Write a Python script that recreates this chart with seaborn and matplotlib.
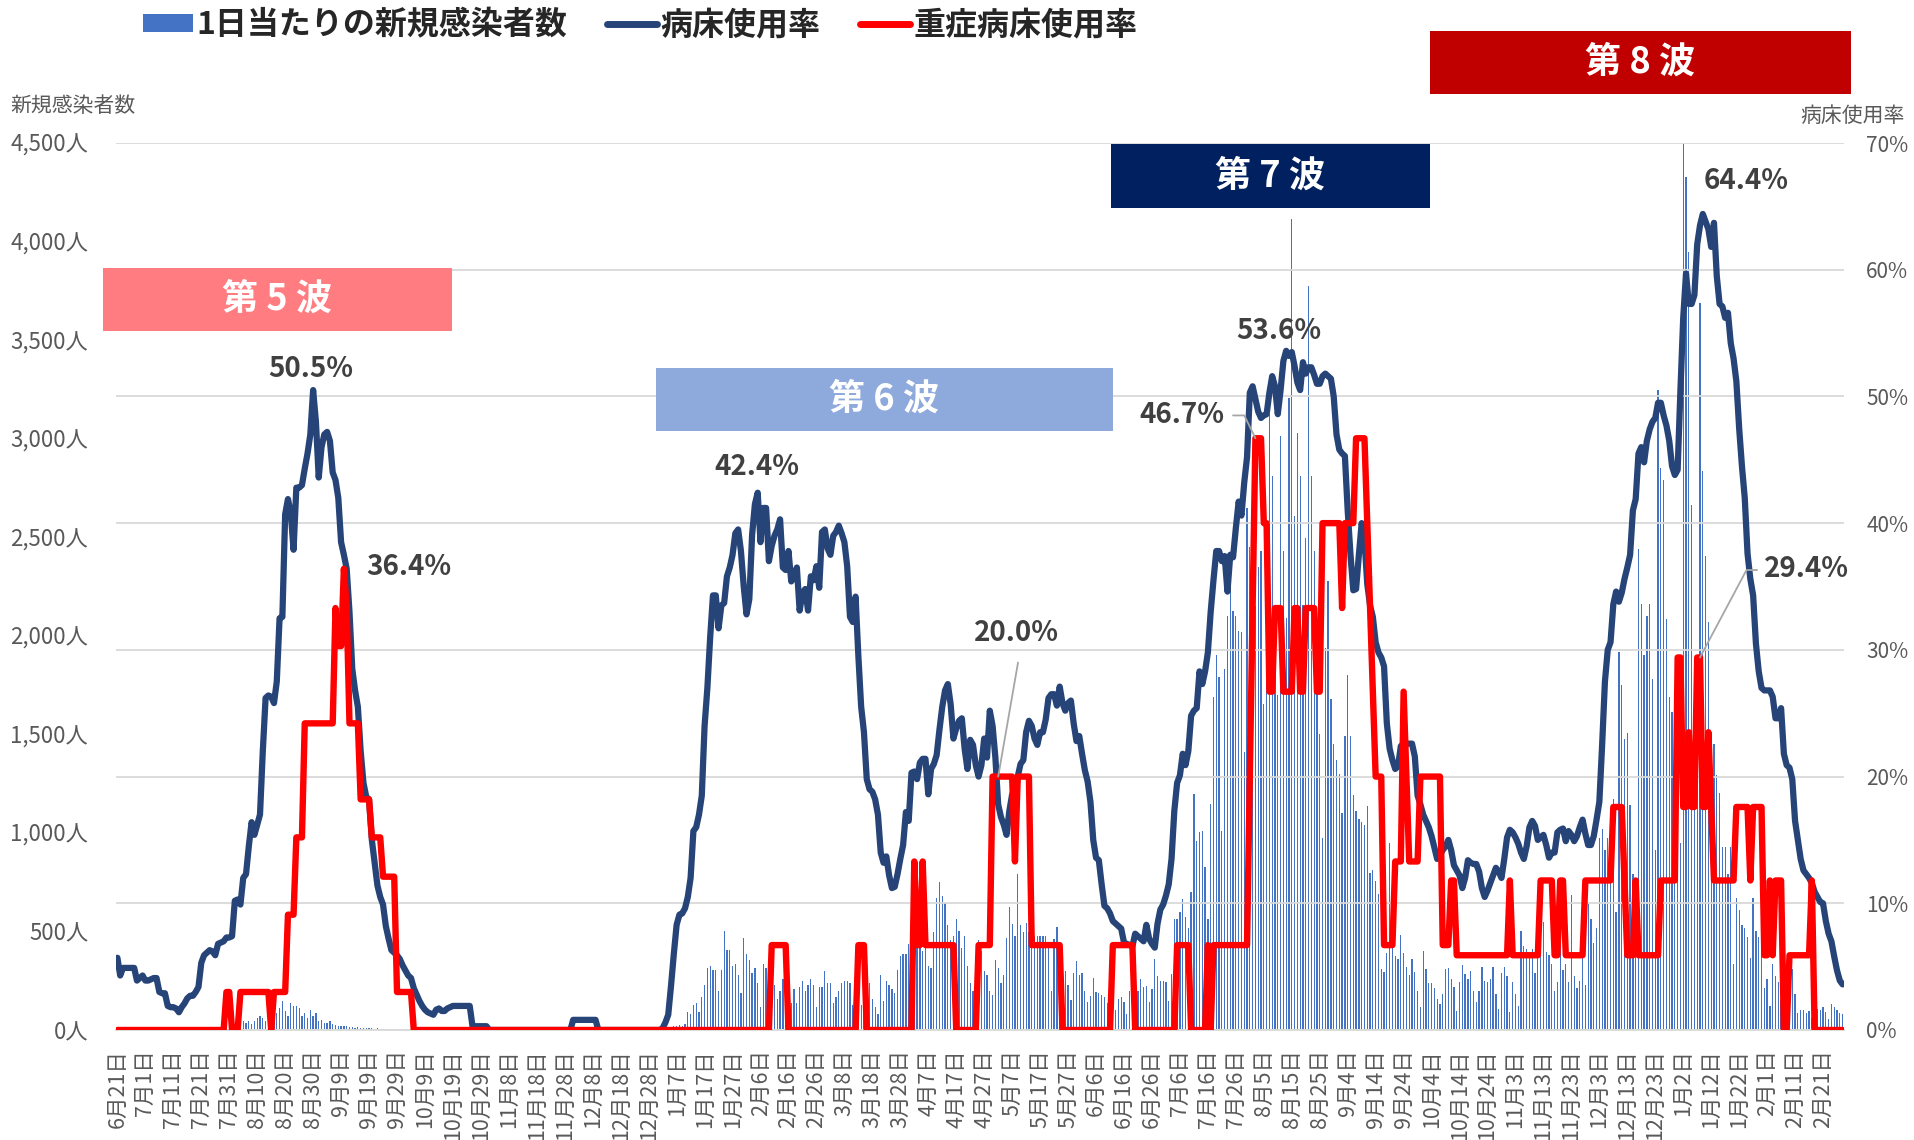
import numpy as np
import pandas as pd
import matplotlib
matplotlib.use("Agg")
import matplotlib.pyplot as plt
from matplotlib.patches import Rectangle
from matplotlib.lines import Line2D
import seaborn as sns

sns.set_theme(style="white")
plt.rcParams['font.family'] = ['Noto Sans CJK JP', 'DejaVu Sans']

# x軸ラベル (10日ごと, 2021/6/21 - 2023/2/21)
date_labels = ['6月21日', '7月1日', '7月11日', '7月21日', '7月31日', '8月10日', '8月20日', '8月30日',
               '9月9日', '9月19日', '9月29日', '10月9日', '10月19日', '10月29日', '11月8日', '11月18日',
               '11月28日', '12月8日', '12月18日', '12月28日', '1月7日', '1月17日', '1月27日', '2月6日',
               '2月16日', '2月26日', '3月8日', '3月18日', '3月28日', '4月7日', '4月17日', '4月27日',
               '5月7日', '5月17日', '5月27日', '6月6日', '6月16日', '6月26日', '7月6日', '7月16日',
               '7月26日', '8月5日', '8月15日', '8月25日', '9月4日', '9月14日', '9月24日', '10月4日',
               '10月14日', '10月24日', '11月3日', '11月13日', '11月23日', '12月3日', '12月13日', '12月23日',
               '1月2日', '1月12日', '1月22日', '2月1日', '2月11日', '2月21日']

# 1日当たりの新規感染者数 (人)
cases = [
    8, 6, 5, 9, 7, 4, 3, 6, 5, 4,
    5, 7, 6, 4, 3, 5, 6, 8, 7, 5,
    4, 6, 9, 8, 10, 7, 5, 8, 11, 12,
    10, 14, 12, 9, 15, 13, 11, 16, 18, 14,
    12, 20, 25, 22, 30, 46, 33, 46, 28, 46,
    59, 72, 59, 46, 40, 38, 97, 84, 110, 148,
    97, 72, 135, 123, 123, 110, 72, 84, 59, 102,
    72, 84, 46, 51, 33, 35, 46, 30, 26, 22,
    20, 18, 20, 15, 14, 12, 15, 10, 11, 9,
    8, 9, 7, 8, 6, 5, 6, 4, 5, 4,
    3, 4, 2, 3, 2, 1, 2, 1, 1, 2,
    1, 0, 1, 1, 0, 2, 1, 0, 1, 1,
    0, 1, 0, 0, 1, 0, 2, 1, 0, 0,
    1, 0, 0, 1, 0, 0, 1, 0, 0, 0,
    1, 0, 0, 0, 1, 0, 0, 0, 0, 1,
    0, 0, 1, 0, 0, 0, 0, 1, 0, 0,
    0, 1, 0, 0, 2, 1, 0, 1, 0, 0,
    1, 0, 0, 0, 1, 0, 0, 0, 1, 0,
    0, 1, 2, 1, 0, 1, 3, 2, 4, 6,
    5, 8, 12, 10, 7, 5, 10, 8, 15, 20,
    18, 25, 22, 30, 89, 79, 129, 138, 89, 168,
    227, 316, 326, 306, 306, 198, 306, 504, 405, 405,
    326, 336, 277, 188, 465, 386, 356, 287, 316, 237,
    119, 336, 316, 280, 250, 227, 158, 198, 257, 277,
    158, 138, 208, 138, 218, 247, 198, 227, 257, 227,
    119, 218, 218, 297, 237, 237, 138, 168, 198, 237,
    247, 247, 237, 129, 198, 99, 129, 119, 198, 237,
    158, 119, 79, 277, 148, 247, 227, 208, 188, 306,
    376, 386, 386, 435, 475, 376, 420, 460, 400, 415,
    326, 316, 495, 672, 752, 682, 643, 534, 455, 475,
    564, 504, 415, 475, 326, 237, 198, 376, 455, 400,
    297, 277, 198, 178, 356, 316, 237, 277, 465, 623,
    540, 475, 791, 534, 495, 544, 495, 415, 475, 475,
    479, 479, 479, 445, 200, 462, 521, 420, 346, 300,
    230, 150, 290, 352, 280, 290, 200, 140, 170, 265,
    195, 190, 180, 165, 135, 90, 145, 100, 155, 166,
    140, 80, 200, 170, 200, 200, 259, 217, 225, 140,
    208, 360, 276, 250, 250, 242, 149, 284, 563, 563,
    600, 665, 572, 520, 699, 1198, 961, 1003, 1012, 826,
    563, 1147, 1689, 1900, 1790, 1012, 1832, 2100, 2302, 2127,
    2098, 2025, 2021, 1409, 2650, 2450, 1500, 2149, 2347, 2429,
    1654, 1871, 3123, 2810, 2143, 1700, 3014, 2429, 2089, 3204,
    4115, 2606, 3027, 2810, 2157, 2497, 3775, 2810, 2429, 1763,
    1500, 974, 1939, 2279, 1681, 1450, 1368, 1300, 1100, 1491,
    1803, 1491, 1191, 1110, 1069, 1055, 1042, 1137, 797, 811,
    756, 688, 307, 294, 389, 947, 443, 375, 362, 484,
    389, 321, 280, 362, 294, 199, 117, 403, 307, 239,
    239, 212, 158, 131, 185, 307, 316, 257, 220, 96,
    243, 330, 286, 257, 301, 199, 140, 199, 320, 250,
    244, 259, 320, 183, 107, 289, 320, 274, 91, 244,
    183, 122, 503, 427, 411, 380, 411, 289, 488, 396,
    548, 396, 381, 335, 198, 244, 472, 305, 335, 244,
    686, 274, 213, 250, 457, 230, 640, 564, 442, 518,
    975, 1021, 914, 975, 1100, 1173, 600, 1920, 1752, 1478,
    1508, 1143, 792, 600, 2438, 2163, 1904, 2102, 2163, 1782,
    914, 3245, 2849, 2788, 2087, 1691, 1615, 1127, 1850, 950,
    4494, 4327, 3946, 2666, 1500, 1250, 3687, 2834, 2407, 2072,
    1432, 1450, 1295, 1200, 929, 929, 792, 929, 335, 670,
    609, 533, 518, 470, 366, 670, 503, 472, 427, 213,
    259, 122, 335, 274, 244, 152, 61, 72, 183, 310,
    181, 87, 103, 103, 87, 95, 60, 118, 105, 103,
    118, 90, 56, 134, 118, 103, 87, 80,
]

# 病床使用率 (%)
bed_rate = [
    5.7, 4.3, 4.9, 4.9, 4.9, 4.9, 4.9, 3.9, 4.1, 4.3,
    3.9, 3.9, 4.0, 4.1, 4.1, 3.0, 2.9, 2.9, 1.9, 1.8,
    1.8, 1.7, 1.4, 1.8, 2.1, 2.5, 2.7, 2.7, 3.0, 3.4,
    5.3, 5.9, 6.1, 6.3, 6.2, 5.9, 6.8, 6.9, 7.0, 7.3,
    7.3, 7.4, 10.2, 10.3, 9.9, 12.0, 12.3, 14.5, 16.4, 15.4,
    16.2, 17.0, 22.0, 26.2, 26.4, 26.3, 25.8, 27.5, 32.5, 32.6,
    40.7, 41.9, 40.8, 37.9, 42.8, 42.8, 43.0, 44.3, 45.5, 47.0,
    50.5, 48.0, 43.6, 46.0, 47.0, 47.2, 46.5, 44.0, 43.4, 42.0,
    38.5, 37.5, 36.4, 33.0, 28.5, 26.8, 25.5, 22.0, 19.5, 18.4,
    18.2, 15.0, 13.2, 11.4, 10.5, 9.9, 8.2, 7.2, 6.3, 6.1,
    5.9, 5.6, 5.1, 4.7, 4.3, 4.1, 3.3, 2.8, 2.3, 1.9,
    1.6, 1.4, 1.3, 1.2, 1.6, 1.7, 1.5, 1.5, 1.7, 1.8,
    1.9, 1.9, 1.9, 1.9, 1.9, 1.9, 1.9, 0.3, 0.3, 0.3,
    0.3, 0.3, 0.3, 0, 0, 0, 0, 0, 0, 0,
    0, 0, 0, 0, 0, 0, 0, 0, 0, 0,
    0, 0, 0, 0, 0, 0, 0, 0, 0, 0,
    0, 0, 0, 0.8, 0.8, 0.8, 0.8, 0.8, 0.8, 0.8,
    0.8, 0.8, 0, 0, 0, 0, 0, 0, 0, 0,
    0, 0, 0, 0, 0, 0, 0, 0, 0, 0,
    0, 0, 0, 0, 0, 0.15, 0.6, 1.2, 3.5, 6.0,
    8.3, 9.1, 9.2, 9.6, 10.5, 12.0, 15.7, 16.0, 17.0, 18.5,
    24.0, 27.0, 31.0, 34.3, 34.3, 31.7, 33.5, 33.7, 35.8, 36.5,
    37.5, 39.2, 39.5, 37.8, 35.0, 32.8, 34.0, 39.1, 41.5, 42.4,
    38.5, 41.2, 41.2, 37.0, 38.2, 39.0, 39.5, 40.3, 36.5, 36.3,
    37.8, 35.4, 35.8, 36.5, 33.1, 34.5, 34.8, 33.1, 35.8, 35.5,
    36.6, 34.9, 39.3, 39.5, 38.0, 37.5, 39.0, 39.3, 39.8, 39.2,
    38.5, 36.6, 32.6, 32.2, 34.2, 29.5, 25.5, 23.5, 19.8, 19.0,
    18.8, 18.2, 17.0, 14.0, 13.2, 13.7, 12.2, 11.2, 11.3, 12.3,
    13.5, 14.6, 17.2, 16.5, 20.3, 20.4, 19.8, 21.1, 21.4, 21.4,
    18.6, 20.6, 21.0, 21.7, 23.7, 25.5, 26.8, 27.3, 25.7, 23.0,
    23.8, 24.4, 24.6, 22.2, 20.6, 22.9, 22.5, 20.9, 20.0, 20.9,
    23.0, 21.5, 25.2, 24.0, 21.5, 17.8, 16.8, 16.2, 15.4, 17.3,
    18.6, 18.2, 20.0, 21.0, 21.3, 23.5, 24.4, 24.0, 23.0, 22.5,
    23.5, 23.5, 24.5, 26.2, 26.5, 26.5, 25.6, 27.1, 25.8, 25.2,
    25.8, 26.0, 24.2, 22.8, 23.2, 21.8, 20.5, 19.6, 18.0, 15.0,
    13.6, 13.4, 11.5, 9.8, 9.6, 9.2, 8.6, 8.4, 8.2, 8.0,
    6.9, 6.8, 6.7, 6.6, 7.6, 7.4, 7.2, 7.0, 8.3, 7.2,
    6.8, 6.5, 8.4, 9.5, 9.9, 10.6, 11.5, 13.5, 17.3, 19.5,
    20.1, 21.8, 20.9, 22.0, 24.8, 25.2, 25.4, 28.3, 27.3, 28.3,
    29.8, 33.0, 35.5, 37.8, 37.8, 37.0, 37.4, 34.6, 37.5, 37.3,
    39.6, 41.7, 40.6, 43.2, 45.2, 50.3, 50.8, 49.8, 48.8, 48.3,
    48.5, 48.6, 50.3, 51.6, 50.8, 48.6, 50.5, 52.8, 53.6, 53.2,
    53.5, 52.4, 51.1, 50.5, 52.7, 51.8, 52.3, 52.3, 51.7, 51.0,
    51.0, 51.6, 51.8, 51.6, 51.4, 50.0, 47.0, 45.8, 45.5, 45.3,
    41.0, 37.5, 34.7, 34.8, 37.5, 40.0, 38.7, 35.2, 33.5, 32.6,
    30.6, 29.8, 29.4, 28.7, 24.2, 22.2, 21.3, 20.6, 20.8, 22.4,
    22.6, 22.6, 22.6, 22.6, 21.6, 18.5, 17.8, 17.0, 16.5, 16.0,
    15.3, 14.4, 13.5, 13.8, 14.2, 14.5, 15.0, 14.2, 13.0, 12.6,
    12.2, 11.2, 12.0, 13.4, 13.2, 13.1, 13.1, 12.5, 11.2, 10.5,
    11.0, 11.6, 12.2, 12.8, 12.5, 12.0, 13.5, 15.2, 15.8, 15.6,
    15.2, 14.7, 14.0, 13.5, 14.5, 16.0, 16.5, 16.1, 15.0, 15.2,
    15.4, 14.6, 13.6, 14.0, 14.0, 15.6, 15.8, 15.9, 14.9, 15.7,
    15.4, 14.9, 15.3, 16.0, 16.6, 15.5, 14.6, 14.6, 15.3, 16.6,
    18.0, 22.5, 27.5, 30.0, 30.6, 33.6, 34.6, 33.8, 34.5, 35.6,
    36.5, 37.5, 41.0, 41.9, 45.5, 46.0, 44.8, 46.5, 47.4, 48.0,
    48.3, 49.5, 49.5, 48.5, 47.7, 46.5, 44.5, 43.8, 44.2, 50.5,
    56.2, 59.7, 57.3, 57.3, 58.0, 62.0, 63.5, 64.4, 63.8, 63.2,
    61.8, 63.7, 59.5, 57.3, 57.1, 56.2, 56.6, 54.2, 53.0, 51.2,
    47.5, 44.5, 42.0, 37.6, 35.6, 34.3, 30.5, 28.3, 27.0, 26.8,
    26.8, 26.8, 26.3, 24.6, 24.6, 25.4, 21.8, 20.9, 20.7, 19.8,
    16.5, 15.0, 13.5, 12.6, 12.3, 12.0, 11.6, 10.9, 10.5, 10.1,
    10.0, 8.6, 7.6, 7.0, 5.8, 4.7, 3.9, 3.6,
]

# 重症病床使用率 (%)
severe_rate = [
    0, 0, 0, 0, 0, 0, 0, 0, 0, 0,
    0, 0, 0, 0, 0, 0, 0, 0, 0, 0,
    0, 0, 0, 0, 0, 0, 0, 0, 0, 0,
    0, 0, 0, 0, 0, 0, 0, 0, 0, 3.0,
    3.0, 0, 0, 0, 3.0, 3.0, 3.0, 3.0, 3.0, 3.0,
    3.0, 3.0, 3.0, 3.0, 3.0, 0, 3.0, 3.0, 3.0, 3.0,
    3.0, 9.1, 9.1, 9.1, 15.2, 15.2, 15.2, 24.2, 24.2, 24.2,
    24.2, 24.2, 24.2, 24.2, 24.2, 24.2, 24.2, 24.2, 33.3, 30.3,
    30.3, 36.4, 33.3, 24.2, 24.2, 24.2, 24.2, 18.2, 18.2, 18.2,
    18.2, 15.2, 15.2, 15.2, 15.2, 12.1, 12.1, 12.1, 12.1, 12.1,
    3.0, 3.0, 3.0, 3.0, 3.0, 3.0, 0, 0, 0, 0,
    0, 0, 0, 0, 0, 0, 0, 0, 0, 0,
    0, 0, 0, 0, 0, 0, 0, 0, 0, 0,
    0, 0, 0, 0, 0, 0, 0, 0, 0, 0,
    0, 0, 0, 0, 0, 0, 0, 0, 0, 0,
    0, 0, 0, 0, 0, 0, 0, 0, 0, 0,
    0, 0, 0, 0, 0, 0, 0, 0, 0, 0,
    0, 0, 0, 0, 0, 0, 0, 0, 0, 0,
    0, 0, 0, 0, 0, 0, 0, 0, 0, 0,
    0, 0, 0, 0, 0, 0, 0, 0, 0, 0,
    0, 0, 0, 0, 0, 0, 0, 0, 0, 0,
    0, 0, 0, 0, 0, 0, 0, 0, 0, 0,
    0, 0, 0, 0, 0, 0, 0, 0, 0, 0,
    0, 0, 0, 0, 6.7, 6.7, 6.7, 6.7, 6.7, 6.7,
    0, 0, 0, 0, 0, 0, 0, 0, 0, 0,
    0, 0, 0, 0, 0, 0, 0, 0, 0, 0,
    0, 0, 0, 0, 0, 6.7, 6.7, 6.7, 0, 0,
    0, 0, 0, 0, 0, 0, 0, 0, 0, 0,
    0, 0, 0, 0, 0, 13.3, 6.7, 6.7, 13.3, 6.7,
    6.7, 6.7, 6.7, 6.7, 6.7, 6.7, 6.7, 6.7, 6.7, 6.7,
    0, 0, 0, 0, 0, 0, 0, 0, 6.7, 6.7,
    6.7, 6.7, 6.7, 20.0, 20.0, 20.0, 20.0, 20.0, 20.0, 20.0,
    20.0, 13.3, 20.0, 20.0, 20.0, 20.0, 20.0, 6.7, 6.7, 6.7,
    6.7, 6.7, 6.7, 6.7, 6.7, 6.7, 6.7, 6.7, 0, 0,
    0, 0, 0, 0, 0, 0, 0, 0, 0, 0,
    0, 0, 0, 0, 0, 0, 6.7, 6.7, 6.7, 6.7,
    6.7, 6.7, 6.7, 6.7, 0, 0, 0, 0, 0, 0,
    0, 0, 0, 0, 0, 0, 0, 0, 0, 6.7,
    6.7, 6.7, 6.7, 6.7, 0, 0, 0, 0, 0, 0,
    6.7, 0, 6.7, 6.7, 6.7, 6.7, 6.7, 6.7, 6.7, 6.7,
    6.7, 6.7, 6.7, 6.7, 6.7, 20.0, 33.3, 46.7, 46.7, 46.7,
    40.0, 40.0, 26.7, 26.7, 33.3, 33.3, 33.3, 26.7, 26.7, 26.7,
    26.7, 33.3, 33.3, 26.7, 26.7, 33.3, 33.3, 33.3, 33.3, 26.7,
    26.7, 40.0, 40.0, 40.0, 40.0, 40.0, 40.0, 40.0, 33.3, 40.0,
    40.0, 40.0, 40.0, 46.7, 46.7, 46.7, 46.7, 40.0, 33.3, 26.7,
    20.0, 20.0, 20.0, 6.7, 6.7, 6.7, 6.7, 13.3, 13.3, 13.3,
    26.7, 20.0, 13.3, 13.3, 13.3, 13.3, 20.0, 20.0, 20.0, 20.0,
    20.0, 20.0, 20.0, 20.0, 6.7, 6.7, 6.7, 11.8, 11.8, 5.9,
    5.9, 5.9, 5.9, 5.9, 5.9, 5.9, 5.9, 5.9, 5.9, 5.9,
    5.9, 5.9, 5.9, 5.9, 5.9, 5.9, 5.9, 5.9, 11.8, 5.9,
    5.9, 5.9, 5.9, 5.9, 5.9, 5.9, 5.9, 5.9, 5.9, 11.8,
    11.8, 11.8, 11.8, 11.8, 5.9, 5.9, 11.8, 11.8, 5.9, 5.9,
    5.9, 5.9, 5.9, 5.9, 5.9, 11.8, 11.8, 11.8, 11.8, 11.8,
    11.8, 11.8, 11.8, 11.8, 11.8, 17.6, 17.6, 17.6, 17.6, 11.8,
    5.9, 5.9, 5.9, 11.8, 5.9, 5.9, 5.9, 5.9, 5.9, 5.9,
    5.9, 5.9, 11.8, 11.8, 11.8, 11.8, 11.8, 11.8, 29.4, 29.4,
    17.6, 17.6, 23.5, 17.6, 17.6, 29.4, 29.4, 17.6, 17.6, 23.5,
    17.6, 11.8, 11.8, 11.8, 11.8, 11.8, 11.8, 11.8, 11.8, 17.6,
    17.6, 17.6, 17.6, 17.6, 11.8, 17.6, 17.6, 17.6, 17.6, 5.9,
    5.9, 11.8, 5.9, 11.8, 11.8, 11.8, 0, 0, 5.9, 5.9,
    5.9, 5.9, 5.9, 5.9, 5.9, 5.9, 11.8, 0, 0, 0,
    0, 0, 0, 0, 0, 0, 0, 0,
]

# 波の見出し
wave_names = ['第 5 波', '第 6 波', '第 7 波', '第 8 波']
wave_colors = ['#FF7C80', '#8EA9DB', '#002060', '#C00000']

blue_bar = '#4472C4'
navy_line = '#264478'
red_line = '#FF0000'
grey_txt = '#595959'
grid_c = '#D9D9D9'

days = np.arange(len(cases))
df = pd.DataFrame({'day': days, 'cases': cases, 'bed': bed_rate, 'severe': severe_rate})

fig = plt.figure(figsize=(19.15, 11.4), dpi=100)
ax = fig.add_axes([116 / 1915, 1 - 1030 / 1140, 1728 / 1915, 887 / 1140])
ax2 = ax.twinx()

sns.barplot(data=df, x='day', y='cases', native_scale=True, width=0.45, color=blue_bar,
            saturation=1, linewidth=0, errorbar=None, ax=ax)
sns.lineplot(data=df, x='day', y='bed', color=navy_line, linewidth=4.5, errorbar=None, ax=ax2)
sns.lineplot(data=df, x='day', y='severe', color=red_line, linewidth=4.6, errorbar=None, ax=ax2)

ax.set_xlim(-0.5, len(cases) - 0.5)
ax.set_ylim(0, 4500)
ax2.set_ylim(0, 70)

ax.set_yticks(range(0, 4501, 500))
ax.set_yticklabels([f'{v:,}人' for v in range(0, 4501, 500)])
ax2.set_yticks(range(0, 71, 10))
ax2.set_yticklabels([f'{v}%' for v in range(0, 71, 10)])
ax.set_xticks(days[::10])
ax.set_xticklabels(date_labels, rotation=90)
ax.set_xticks(np.arange(-0.5, len(cases), 10), minor=True)

ax.tick_params(axis='x', which='major', length=0, pad=14, labelsize=15.5, labelcolor=grey_txt)
ax.tick_params(axis='x', which='minor', length=7, width=1.2, color=grid_c)
ax.tick_params(axis='y', length=0, labelsize=16, labelcolor=grey_txt, pad=20)
ax2.tick_params(axis='y', length=0, labelsize=15, labelcolor=grey_txt, pad=16)
ax.set_xlabel('')
ax.set_ylabel('')
ax2.set_xlabel('')
ax2.set_ylabel('')

for s in ['top', 'left', 'right']:
    ax.spines[s].set_visible(False)
ax.spines['bottom'].set_color(grid_c)
ax.spines['bottom'].set_linewidth(1.3)
for s in ax2.spines.values():
    s.set_visible(False)
ax.grid(False)
ax2.set_axisbelow(True)
ax2.yaxis.grid(True, color=grid_c, linewidth=1.3)
ax2.xaxis.grid(False)

# ピーク値の注記
note = dict(fontsize=20, fontweight='bold', color='#404040', ha='center', va='center')
ax2.text(69.2, 52.2, '50.5%', **note)
ax2.text(104.3, 36.5, '36.4%', **note)
ax2.text(228.7, 44.4, '42.4%', **note)
ax2.text(321.4, 31.3, '20.0%', **note)
ax2.text(380.7, 48.5, '46.7%', **note)
ax2.text(415.5, 55.2, '53.6%', **note)
ax2.text(582.5, 67.0, '64.4%', **note)
ax2.text(604.0, 36.4, '29.4%', **note)

lead = dict(arrowstyle='-', color='#A6A6A6', lw=1.3, shrinkA=0, shrinkB=0)
ax2.annotate('', xy=(315, severe_rate[315]), xytext=(322.1, 29.0), arrowprops=lead)
ax2.annotate('', xy=(407, severe_rate[407]), xytext=(399.0, 48.5),
             arrowprops=dict(lead, connectionstyle='angle,angleA=0,angleB=116,rad=0'))
ax2.annotate('', xy=(566, severe_rate[566]), xytext=(586.4, 36.3),
             arrowprops=dict(lead, connectionstyle='angle,angleA=0,angleB=62,rad=0'))

# 波の見出しボックス (figure座標, px)
boxes = [(103, 268, 349, 63), (656, 368, 457, 63), (1111, 144, 319, 64), (1430, 31, 421, 63)]
for (x0, y0, w, h), name, c in zip(boxes, wave_names, wave_colors):
    fig.patches.append(Rectangle((x0 / 1915, 1 - (y0 + h) / 1140), w / 1915, h / 1140,
                                 transform=fig.transFigure, facecolor=c, edgecolor='none'))
    fig.text((x0 + w / 2) / 1915, 1 - (y0 + h / 2) / 1140, name, color='white',
             fontsize=26, fontweight='bold', ha='center', va='center')

# 軸タイトル
fig.text(10 / 1915, 1 - 106 / 1140, '新規感染者数', fontsize=15, color=grey_txt, ha='left', va='center')
fig.text(1905 / 1915, 1 - 116 / 1140, '病床使用率', fontsize=15, color=grey_txt, ha='right', va='center')

# 凡例
handles = [Rectangle((0, 0), 1, 1, facecolor=blue_bar, edgecolor='none'),
           Line2D([], [], color=navy_line, linewidth=5),
           Line2D([], [], color=red_line, linewidth=5)]
fig.legend(handles, ['1日当たりの新規感染者数', '病床使用率', '重症病床使用率'],
           loc='upper left', bbox_to_anchor=(143 / 1915, 1 - 9 / 1140), ncol=3, frameon=False,
           prop={'family': ['Noto Sans CJK JP', 'DejaVu Sans'], 'weight': 'bold', 'size': 23},
           handlelength=1.55, handleheight=0.5, handletextpad=0.12, columnspacing=1.25,
           borderpad=0, borderaxespad=0)

fig.savefig('out.png', dpi=100)
